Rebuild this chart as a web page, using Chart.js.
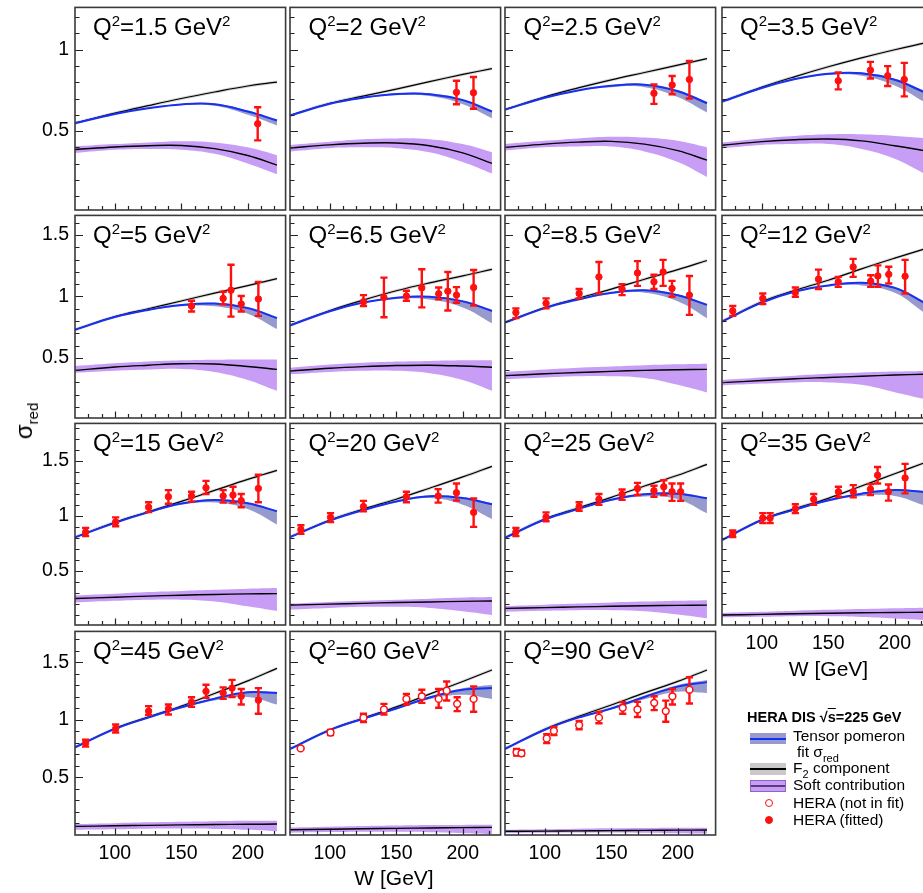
<!DOCTYPE html>
<html>
<head>
<meta charset="utf-8">
<title>HERA DIS reduced cross section versus W</title>
<script src="https://cdn.jsdelivr.net/npm/chart.js@4.4.1/dist/chart.umd.min.js"></script>
<style>
  html, body { margin: 0; padding: 0; background: #fff; }
  #page { position: relative; width: 923px; height: 893px; overflow: hidden;
          font-family: "Liberation Sans", Arial, Helvetica, sans-serif; color: #000; }
  #page canvas { position: absolute; }
  .lbl { position: absolute; white-space: nowrap; line-height: 1; z-index: 5; }
  .q2 { font-size: 24px; }
  .q2 .sup { font-size: 15px; position: relative; top: -9px; }
  .wlab { font-size: 21px; transform: translateX(-50%); }
  .ytitle { font-size: 24px; transform: translate(-50%, -50%) rotate(-90deg); transform-origin: center; }
  .ytitle .sub { font-size: 15px; position: relative; top: 6px; }
  .leg { font-size: 15.5px; }
  .leg .sub { font-size: 11px; position: relative; top: 5px; }
  .legtitle { font-size: 14.5px; font-weight: bold; }
  .sw { position: absolute; z-index: 5; box-sizing: border-box; }
  .sw .mid { position: absolute; left: 0; right: 0; }
  .dot { position: absolute; z-index: 5; width: 8px; height: 8px; border-radius: 50%; box-sizing: border-box; }
</style>
</head>
<body>
<div id="page"></div>
<script>
// ---- data -----------------------------------------------------------------
const q2Values = ['1.5', '2', '2.5', '3.5', '5', '6.5', '8.5', '12', '15', '20', '25', '35', '45', '60', '90'];

// W grid (GeV) on which the model curves are tabulated
const wGrid = [70, 100, 125, 150, 175, 200, 222];

// F2 component
const f2Curve = [
  [0.549, 0.610, 0.656, 0.700, 0.740, 0.777, 0.801],
  [0.596, 0.671, 0.715, 0.758, 0.804, 0.848, 0.884],
  [0.632, 0.710, 0.765, 0.815, 0.860, 0.905, 0.945],
  [0.681, 0.770, 0.835, 0.895, 0.950, 1.000, 1.040],
  [0.729, 0.836, 0.900, 0.963, 1.027, 1.088, 1.145],
  [0.764, 0.885, 0.970, 1.046, 1.110, 1.167, 1.221],
  [0.788, 0.909, 0.985, 1.060, 1.140, 1.218, 1.293],
  [0.796, 0.957, 1.050, 1.132, 1.225, 1.312, 1.385],
  [0.803, 0.940, 1.035, 1.130, 1.230, 1.330, 1.413],
  [0.805, 0.960, 1.060, 1.150, 1.250, 1.353, 1.449],
  [0.799, 0.970, 1.070, 1.167, 1.270, 1.368, 1.467],
  [0.778, 0.964, 1.065, 1.158, 1.270, 1.382, 1.480],
  [0.762, 0.925, 1.025, 1.120, 1.230, 1.340, 1.449],
  [0.748, 0.914, 1.015, 1.114, 1.225, 1.335, 1.435],
  [0.748, 0.920, 1.030, 1.130, 1.235, 1.335, 1.435]
];

// tensor pomeron fit of sigma_red, with its uncertainty band
const fitCurve = [
  [0.549, 0.605, 0.640, 0.664, 0.665, 0.620, 0.565],
  [0.596, 0.668, 0.705, 0.728, 0.727, 0.690, 0.620],
  [0.632, 0.705, 0.750, 0.778, 0.785, 0.745, 0.671],
  [0.681, 0.765, 0.820, 0.852, 0.855, 0.815, 0.740],
  [0.729, 0.832, 0.890, 0.930, 0.942, 0.905, 0.823],
  [0.764, 0.880, 0.950, 0.990, 0.997, 0.960, 0.882],
  [0.788, 0.905, 0.975, 1.030, 1.050, 1.010, 0.931],
  [0.796, 0.950, 1.040, 1.090, 1.112, 1.070, 0.950],
  [0.803, 0.935, 1.030, 1.110, 1.143, 1.113, 1.039],
  [0.805, 0.955, 1.050, 1.130, 1.177, 1.160, 1.104],
  [0.799, 0.965, 1.060, 1.145, 1.195, 1.200, 1.158],
  [0.778, 0.960, 1.055, 1.140, 1.200, 1.233, 1.215],
  [0.762, 0.922, 1.020, 1.110, 1.185, 1.240, 1.235],
  [0.748, 0.912, 1.010, 1.100, 1.195, 1.263, 1.277],
  [0.748, 0.915, 1.020, 1.100, 1.200, 1.290, 1.329]
];
const fitLow = [
  [0.549, 0.604, 0.638, 0.660, 0.655, 0.600, 0.535],
  [0.596, 0.667, 0.703, 0.720, 0.715, 0.665, 0.579],
  [0.632, 0.704, 0.747, 0.770, 0.770, 0.710, 0.614],
  [0.681, 0.764, 0.816, 0.845, 0.840, 0.780, 0.680],
  [0.729, 0.830, 0.885, 0.920, 0.920, 0.860, 0.734],
  [0.764, 0.878, 0.945, 0.980, 0.975, 0.910, 0.782],
  [0.788, 0.903, 0.970, 1.020, 1.030, 0.960, 0.823],
  [0.796, 0.948, 1.035, 1.080, 1.090, 1.030, 0.870],
  [0.803, 0.933, 1.025, 1.100, 1.120, 1.060, 0.919],
  [0.805, 0.953, 1.045, 1.120, 1.160, 1.100, 0.969],
  [0.799, 0.963, 1.055, 1.135, 1.175, 1.150, 1.023],
  [0.778, 0.958, 1.050, 1.130, 1.180, 1.180, 1.095],
  [0.762, 0.920, 1.015, 1.100, 1.170, 1.200, 1.134],
  [0.748, 0.910, 1.005, 1.090, 1.180, 1.220, 1.183],
  [0.748, 0.913, 1.015, 1.090, 1.180, 1.245, 1.235]
];
const fitHigh = [
  [0.549, 0.607, 0.643, 0.668, 0.670, 0.627, 0.573],
  [0.596, 0.670, 0.708, 0.732, 0.732, 0.697, 0.628],
  [0.632, 0.707, 0.753, 0.782, 0.790, 0.752, 0.680],
  [0.681, 0.767, 0.823, 0.856, 0.860, 0.822, 0.750],
  [0.729, 0.834, 0.893, 0.934, 0.948, 0.913, 0.833],
  [0.764, 0.882, 0.953, 0.994, 1.003, 0.968, 0.892],
  [0.788, 0.907, 0.978, 1.034, 1.056, 1.018, 0.941],
  [0.796, 0.952, 1.043, 1.094, 1.118, 1.078, 0.960],
  [0.803, 0.937, 1.033, 1.114, 1.149, 1.121, 1.049],
  [0.805, 0.957, 1.053, 1.134, 1.183, 1.168, 1.114],
  [0.799, 0.967, 1.063, 1.149, 1.201, 1.208, 1.168],
  [0.778, 0.962, 1.058, 1.144, 1.206, 1.241, 1.225],
  [0.762, 0.924, 1.023, 1.114, 1.191, 1.248, 1.245],
  [0.748, 0.914, 1.013, 1.104, 1.203, 1.275, 1.306],
  [0.748, 0.917, 1.024, 1.106, 1.212, 1.305, 1.348]
];

// soft pomeron contribution, with its band
const softCurve = [
  [0.387, 0.402, 0.410, 0.411, 0.392, 0.350, 0.291],
  [0.396, 0.415, 0.425, 0.427, 0.410, 0.366, 0.301],
  [0.400, 0.420, 0.432, 0.437, 0.420, 0.380, 0.321],
  [0.413, 0.435, 0.447, 0.451, 0.440, 0.410, 0.380],
  [0.398, 0.425, 0.440, 0.452, 0.450, 0.430, 0.406],
  [0.393, 0.415, 0.428, 0.437, 0.440, 0.433, 0.423],
  [0.355, 0.370, 0.380, 0.390, 0.398, 0.403, 0.406],
  [0.298, 0.315, 0.330, 0.340, 0.350, 0.360, 0.366],
  [0.246, 0.258, 0.268, 0.276, 0.283, 0.288, 0.291],
  [0.186, 0.195, 0.202, 0.210, 0.215, 0.220, 0.224],
  [0.156, 0.163, 0.170, 0.175, 0.180, 0.184, 0.186],
  [0.096, 0.102, 0.108, 0.112, 0.116, 0.119, 0.121],
  [0.075, 0.080, 0.084, 0.088, 0.091, 0.093, 0.095],
  [0.046, 0.050, 0.054, 0.058, 0.061, 0.064, 0.066],
  [0.032, 0.034, 0.036, 0.038, 0.040, 0.042, 0.043]
];
const softLow = [
  [0.366, 0.385, 0.390, 0.385, 0.360, 0.300, 0.234],
  [0.375, 0.395, 0.400, 0.395, 0.370, 0.310, 0.239],
  [0.380, 0.400, 0.405, 0.405, 0.375, 0.310, 0.218],
  [0.395, 0.415, 0.420, 0.420, 0.390, 0.330, 0.240],
  [0.379, 0.395, 0.405, 0.410, 0.385, 0.320, 0.231],
  [0.366, 0.385, 0.395, 0.395, 0.375, 0.320, 0.232],
  [0.326, 0.340, 0.350, 0.350, 0.335, 0.280, 0.218],
  [0.275, 0.290, 0.300, 0.300, 0.280, 0.220, 0.165],
  [0.210, 0.225, 0.235, 0.235, 0.220, 0.175, 0.132],
  [0.145, 0.160, 0.170, 0.170, 0.160, 0.130, 0.096],
  [0.126, 0.135, 0.140, 0.140, 0.130, 0.100, 0.066],
  [0.075, 0.080, 0.085, 0.085, 0.078, 0.065, 0.051],
  [0.046, 0.050, 0.055, 0.056, 0.052, 0.045, 0.032],
  [0.020, 0.025, 0.028, 0.028, 0.024, 0.016, 0.009],
  [0.018, 0.020, 0.022, 0.022, 0.020, 0.015, 0.012]
];
const softHigh = [
  [0.406, 0.420, 0.430, 0.438, 0.430, 0.400, 0.352],
  [0.415, 0.435, 0.450, 0.455, 0.450, 0.420, 0.370],
  [0.420, 0.440, 0.455, 0.465, 0.460, 0.440, 0.400],
  [0.430, 0.455, 0.470, 0.480, 0.480, 0.470, 0.457],
  [0.433, 0.455, 0.470, 0.480, 0.485, 0.487, 0.487],
  [0.419, 0.445, 0.460, 0.470, 0.475, 0.480, 0.481],
  [0.385, 0.405, 0.420, 0.430, 0.440, 0.447, 0.452],
  [0.320, 0.340, 0.355, 0.370, 0.380, 0.388, 0.393],
  [0.275, 0.290, 0.305, 0.315, 0.325, 0.335, 0.341],
  [0.200, 0.215, 0.225, 0.235, 0.245, 0.255, 0.260],
  [0.177, 0.190, 0.200, 0.210, 0.218, 0.226, 0.231],
  [0.115, 0.125, 0.135, 0.143, 0.150, 0.157, 0.162],
  [0.095, 0.103, 0.110, 0.115, 0.120, 0.123, 0.124],
  [0.065, 0.072, 0.078, 0.082, 0.086, 0.088, 0.089],
  [0.045, 0.050, 0.055, 0.058, 0.061, 0.063, 0.064]
];

// HERA measurements: W, sigma_red and the two ends of each error bar
const heraW = [
  [207.5],
  [195.3, 208.1],
  [182.1, 195.8, 208.8],
  [157.5, 181.7, 194.7, 207.2],
  [157.7, 181.5, 187.4, 195.1, 208],
  [125.3, 140.7, 157.6, 169.2, 181.9, 188.8, 195.3, 208.2],
  [78.2, 100.9, 125.8, 140.7, 158.1, 169.7, 182.1, 189, 195.7, 208.8],
  [78.1, 100.7, 125.2, 142.6, 157.5, 168.7, 181.9, 187.3, 195.5, 207.8],
  [78, 100.6, 125.4, 140.3, 157.7, 168.6, 181.5, 188.9, 195.1, 208],
  [78.2, 100.5, 125.3, 157.6, 181.5, 195.3, 208.2],
  [78.2, 100.9, 125.8, 140.7, 158.1, 169.7, 182.1, 189.5, 195.7, 202.2],
  [78.1, 100.7, 106.2, 125.2, 139, 157.6, 168.8, 181.7, 187.1, 195.3, 207.8],
  [78, 100.6, 125.4, 140.3, 157.7, 168.6, 181.5, 188.2, 195.1, 208],
  [78, 100.5, 125.3, 140.7, 157.6, 169.2, 181.9, 187.9, 195.8, 208.2],
  [78.7, 82.4, 101.4, 106.8, 125.8, 140.7, 158.6, 169.7, 182.3, 191, 196, 208.8]
];
const heraSigma = [
  [0.545],
  [0.738, 0.736],
  [0.732, 0.783, 0.817],
  [0.809, 0.874, 0.840, 0.817],
  [0.922, 0.984, 1.051, 0.938, 0.979],
  [0.957, 0.992, 1.003, 1.070, 1.022, 1.043, 1.011, 1.073],
  [0.869, 0.944, 1.024, 1.159, 1.060, 1.191, 1.119, 1.199, 1.065, 1.011],
  [0.882, 0.984, 1.032, 1.140, 1.119, 1.240, 1.124, 1.167, 1.180, 1.164],
  [0.850, 0.943, 1.077, 1.173, 1.179, 1.254, 1.179, 1.188, 1.137, 1.248],
  [0.874, 0.985, 1.083, 1.173, 1.179, 1.209, 1.030],
  [0.853, 0.988, 1.083, 1.149, 1.194, 1.248, 1.227, 1.263, 1.218, 1.218],
  [0.835, 0.979, 0.979, 1.063, 1.149, 1.218, 1.218, 1.242, 1.368, 1.218, 1.344],
  [0.799, 0.925, 1.077, 1.097, 1.155, 1.249, 1.235, 1.277, 1.206, 1.172],
  [0.753, 0.891, 1.020, 1.091, 1.183, 1.206, 1.183, 1.254, 1.140, 1.183],
  [0.719, 0.710, 0.839, 0.905, 0.954, 1.020, 1.106, 1.091, 1.149, 1.077, 1.206, 1.263]
];
const heraErrLow = [
  [0.443],
  [0.665, 0.637],
  [0.667, 0.726, 0.700],
  [0.756, 0.823, 0.777, 0.713],
  [0.877, 0.935, 0.836, 0.877, 0.842],
  [0.922, 0.831, 0.965, 0.911, 0.976, 0.885, 0.949, 0.925],
  [0.823, 0.903, 0.984, 1.024, 1.011, 1.086, 1.060, 1.086, 0.998, 0.850],
  [0.842, 0.938, 0.998, 1.060, 1.078, 1.159, 1.078, 1.078, 1.105, 1.024],
  [0.814, 0.904, 1.032, 1.108, 1.128, 1.197, 1.119, 1.119, 1.077, 1.122],
  [0.835, 0.943, 1.039, 1.122, 1.119, 1.137, 0.898],
  [0.814, 0.949, 1.045, 1.099, 1.144, 1.188, 1.173, 1.188, 1.135, 1.135],
  [0.805, 0.934, 0.934, 1.023, 1.099, 1.173, 1.167, 1.188, 1.293, 1.137, 1.203],
  [0.768, 0.891, 1.043, 1.048, 1.114, 1.192, 1.183, 1.200, 1.134, 1.054],
  [0.745, 0.868, 0.983, 1.048, 1.134, 1.149, 1.106, 1.169, 1.077, 1.071],
  [0.690, 0.690, 0.799, 0.868, 0.919, 0.971, 1.054, 1.026, 1.086, 0.985, 1.134, 1.143]
];
const heraErrHigh = [
  [0.646],
  [0.809, 0.832],
  [0.787, 0.838, 0.931],
  [0.860, 0.925, 0.899, 0.919],
  [0.965, 1.038, 1.258, 1.003, 1.119],
  [1.011, 1.153, 1.046, 1.221, 1.073, 1.199, 1.076, 1.215],
  [0.903, 0.984, 1.060, 1.280, 1.100, 1.288, 1.177, 1.298, 1.127, 1.167],
  [0.922, 1.024, 1.073, 1.218, 1.159, 1.306, 1.172, 1.253, 1.242, 1.298],
  [0.889, 0.985, 1.122, 1.233, 1.218, 1.317, 1.233, 1.263, 1.197, 1.373],
  [0.913, 1.023, 1.135, 1.218, 1.242, 1.293, 1.158],
  [0.889, 1.030, 1.122, 1.197, 1.239, 1.299, 1.272, 1.323, 1.293, 1.293],
  [0.865, 1.023, 1.023, 1.104, 1.197, 1.263, 1.278, 1.287, 1.443, 1.284, 1.472],
  [0.828, 0.960, 1.120, 1.134, 1.198, 1.306, 1.283, 1.349, 1.269, 1.277],
  [0.761, 0.914, 1.054, 1.140, 1.226, 1.263, 1.269, 1.335, 1.198, 1.292],
  [0.748, 0.735, 0.876, 0.940, 0.991, 1.069, 1.155, 1.157, 1.206, 1.168, 1.269, 1.372]
];
// true: points used in the fit (filled), false: not in fit (open)
const heraFitted = [true, true, true, true, true, true, true, true, true, true, true, true, true, false, false];

// axis ticks
const xTickLabels = [100, 150, 200];
const yTickLabels = [0.5, 1, 1.5];

// ---- layout ---------------------------------------------------------------
const W_MIN = 70, W_MAX = 228.5;
const rowYMin = [0.015, 0.01, 0.005, 0];
const rowYMax = [1.26, 1.66, 1.84, 1.77];
const colLeft = [74.5, 290, 505, 721.5];
const rowTop = [5, 213, 421, 628.5];
const rowBottom = [209.5, 417.5, 625, 834];
const panelWidth = 213;
const PAD_L = 60, PAD_T = 4, PAD_R = 4, PAD_B = 44;

const colors = {
  red: '#ff1010',
  blue: '#1830f0',
  blueBand: 'rgba(120,126,190,0.78)',
  purpleBand: 'rgba(196,152,246,0.95)',
  f2Halo: 'rgba(160,160,160,0.45)',
  frame: '#3a3a3a',
  tick: '#222'
};

// inward tick marks and the panel frame
const frameTicks = {
  id: 'frameTicks',
  afterDatasetsDraw(chart) {
    const { ctx, chartArea: a, scales: { x, y } } = chart;
    ctx.save();
    ctx.strokeStyle = colors.tick;
    ctx.lineWidth = 1.2;
    ctx.beginPath();
    for (let k = 1; k / 10 < y.max; k++) {
      const v = k / 10;
      if (v < y.min) continue;
      const py = Math.round(y.getPixelForValue(v)) + 0.5;
      const len = (k % 5 === 0) ? 8 : 4.5;
      ctx.moveTo(a.left, py);
      ctx.lineTo(a.left + len, py);
    }
    for (let k = 8; k * 10 < x.max; k++) {
      const v = k * 10;
      const px = Math.round(x.getPixelForValue(v)) + 0.5;
      const len = (v % 50 === 0) ? 6.5 : 4;
      ctx.moveTo(px, a.bottom);
      ctx.lineTo(px, a.bottom - len);
    }
    ctx.stroke();
    ctx.strokeStyle = colors.frame;
    ctx.lineWidth = 1.6;
    ctx.strokeRect(a.left, a.top, a.right - a.left, a.bottom - a.top);
    ctx.restore();
  }
};

// keep every plot area at its fixed place: no extra room for label overhang
function fixBox(size, vertical) {
  return s => {
    if (vertical) s.width = size; else s.height = size;
    s.paddingTop = 0; s.paddingBottom = 0; s.paddingLeft = 0; s.paddingRight = 0;
  };
}

const page = document.getElementById('page');

function curve(arr) {
  return wGrid.map((w, i) => ({ x: w, y: arr[i] }));
}

function addLabel(html, cls, left, top) {
  const d = document.createElement('div');
  d.className = 'lbl ' + cls;
  d.innerHTML = html;
  d.style.left = left + 'px';
  d.style.top = top + 'px';
  page.appendChild(d);
  return d;
}

const tickFont = { family: '"Liberation Sans", Arial, sans-serif', size: 19.5 };

q2Values.forEach((q2, p) => {
  const r = Math.floor(p / 4), c = p % 4;
  const showY = c === 0;
  const showX = (r === 3) || (r === 2 && c === 3);
  const fx = Math.round(colLeft[c]);
  const fy = Math.round(rowTop[r]);
  const fh = Math.round(rowBottom[r] - rowTop[r]);

  const cv = document.createElement('canvas');
  cv.width = panelWidth + PAD_L + PAD_R;
  cv.height = fh + PAD_T + PAD_B;
  cv.style.left = (fx - PAD_L) + 'px';
  cv.style.top = (fy - PAD_T) + 'px';
  page.appendChild(cv);

  const bars = [];
  heraW[p].forEach((w, i) => {
    bars.push({ x: w, y: heraErrLow[p][i] }, { x: w, y: heraErrHigh[p][i] }, { x: w, y: null });
  });
  const points = heraW[p].map((w, i) => ({ x: w, y: heraSigma[p][i] }));
  const fitted = heraFitted[p];

  const base = { pointRadius: 0, tension: 0.4, fill: false };

  new Chart(cv, {
    type: 'line',
    data: {
      datasets: [
        { ...base, data: curve(softLow[p]), borderWidth: 0, borderColor: 'rgba(0,0,0,0)', order: 10 },
        { ...base, data: curve(softHigh[p]), borderWidth: 0, borderColor: 'rgba(0,0,0,0)',
          fill: '-1', backgroundColor: colors.purpleBand, order: 9 },
        { ...base, data: curve(softCurve[p]), borderWidth: 1.4, borderColor: '#000', order: 8 },
        { ...base, data: curve(fitLow[p]), borderWidth: 0, borderColor: 'rgba(0,0,0,0)', order: 7 },
        { ...base, data: curve(fitHigh[p]), borderWidth: 0, borderColor: 'rgba(0,0,0,0)',
          fill: '-1', backgroundColor: colors.blueBand, order: 6 },
        { ...base, data: curve(f2Curve[p]), borderWidth: 3, borderColor: colors.f2Halo, order: 5 },
        { ...base, data: curve(f2Curve[p]), borderWidth: 1.2, borderColor: '#000', order: 4 },
        { ...base, data: curve(fitCurve[p]), borderWidth: 2, borderColor: colors.blue, order: 3 },
        { data: bars, showLine: true, spanGaps: false, tension: 0, borderColor: colors.red, borderWidth: 2.4,
          pointStyle: 'line', pointRadius: 3.6, pointBorderWidth: 2.4, pointBorderColor: colors.red,
          pointBackgroundColor: colors.red, fill: false, order: 2 },
        { data: points, showLine: false, pointStyle: 'circle',
          pointRadius: fitted ? 3.2 : 3.4,
          pointBackgroundColor: fitted ? colors.red : '#fff',
          pointBorderColor: colors.red, pointBorderWidth: fitted ? 1 : 1.5, order: 1 }
      ]
    },
    options: {
      responsive: false,
      animation: false,
      devicePixelRatio: 1,
      events: [],
      layout: { padding: { left: 0, top: PAD_T, right: PAD_R, bottom: 0 } },
      plugins: { legend: { display: false }, tooltip: { enabled: false } },
      scales: {
        x: {
          type: 'linear', min: W_MIN, max: W_MAX,
          grid: { display: false, drawTicks: false },
          border: { display: false },
          ticks: { display: showX, padding: 7, color: '#000', font: tickFont, callback: v => String(v) },
          afterBuildTicks: s => { s.ticks = xTickLabels.map(v => ({ value: v })); },
          afterFit: fixBox(PAD_B, false)
        },
        y: {
          type: 'linear', min: rowYMin[r], max: rowYMax[r],
          grid: { display: false, drawTicks: false },
          border: { display: false },
          ticks: { display: showY, padding: 6, color: '#000', font: tickFont, callback: v => String(v) },
          afterBuildTicks: s => { s.ticks = yTickLabels.filter(v => v <= s.max).map(v => ({ value: v })); },
          afterFit: fixBox(PAD_L, true)
        }
      }
    },
    plugins: [frameTicks]
  });

  addLabel('Q<span class="sup">2</span>=' + q2 + ' GeV<span class="sup">2</span>', 'q2',
           colLeft[c] + 18.5, rowTop[r] + 10);
});

// axis titles
addLabel('W [GeV]', 'wlab', 394, 867);
addLabel('W [GeV]', 'wlab', 828.5, 658);
addLabel('&sigma;<span class="sub">red</span>', 'ytitle', 24, 421);

// legend
addLabel('HERA DIS &radic;<span style="text-decoration:overline">s</span>=225 GeV', 'legtitle', 747, 710);
addLabel('Tensor pomeron', 'leg', 793, 728);
addLabel('fit &sigma;<span class="sub">red</span>', 'leg', 797, 744);
addLabel('F<span class="sub">2</span> component', 'leg', 793, 760);
addLabel('Soft contribution', 'leg', 793, 777);
addLabel('HERA (not in fit)', 'leg', 793, 795);
addLabel('HERA (fitted)', 'leg', 793, 812);

function swatch(top, h, bg, border, lineColor, lineW) {
  const s = document.createElement('div');
  s.className = 'sw';
  s.style.left = '750px'; s.style.top = top + 'px';
  s.style.width = '36px'; s.style.height = h + 'px';
  s.style.background = bg;
  if (border) s.style.border = '1px solid ' + border;
  const m = document.createElement('div');
  m.className = 'mid';
  m.style.top = ((h - lineW) / 2 - (border ? 1 : 0)) + 'px';
  m.style.height = lineW + 'px';
  m.style.background = lineColor;
  s.appendChild(m);
  page.appendChild(s);
}
swatch(733, 11, colors.blueBand, null, colors.blue, 2);
swatch(763, 12, '#c9c9c9', null, '#000', 1.5);
swatch(780, 12, colors.purpleBand, '#8f62c8', '#5a3a80', 1.5);

function dot(cx, cy, filled) {
  const d = document.createElement('div');
  d.className = 'dot';
  d.style.left = (cx - 4) + 'px'; d.style.top = (cy - 4) + 'px';
  d.style.background = filled ? colors.red : '#fff';
  d.style.border = (filled ? 1 : 1.5) + 'px solid ' + colors.red;
  page.appendChild(d);
}
dot(769, 803, false);
dot(769, 820, true);
</script>
</body>
</html>
